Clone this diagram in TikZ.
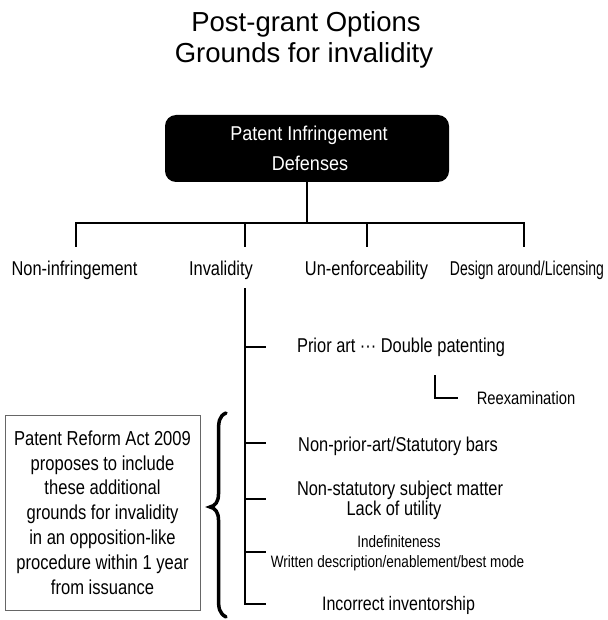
\documentclass[tikz,border=0pt]{standalone}
\usepackage{fontspec}
\setmainfont{Liberation Sans}
\newfontfamily\nar[FakeStretch=0.82]{Liberation Sans}
\newfontfamily\narr[FakeStretch=0.70]{Liberation Sans}
\newfontfamily\boxfont[FakeStretch=0.90]{Liberation Sans}
\begin{document}
\begin{tikzpicture}[x=1pt,y=-1pt,
  conn/.style={line width=1.8pt},
  lbl/.style={inner sep=0pt,anchor=base,font=\nar\fontsize{20}{24}\selectfont},
  sub/.style={inner sep=0pt,anchor=base,font=\nar\fontsize{20}{24}\selectfont},
  small/.style={inner sep=0pt,anchor=base,font=\nar\fontsize{16.5}{20}\selectfont},
  ttl/.style={inner sep=0pt,anchor=base,font=\fontsize{27.5}{32}\selectfont}]
\useasboundingbox (0,0) rectangle (607,620);
% title
\node[ttl] (t1) at (306,32) {Post-grant Options};
\node[ttl] (t2) at (304,63) {Grounds for invalidity};
% root box
\node[fill=black,rounded corners=11pt,minimum width=284pt,minimum height=67pt,inner sep=0pt] (root) at (307,148.5) {};
\node[inner sep=0pt,anchor=base,text=white,font=\boxfont\fontsize{20}{24}\selectfont] (r1) at (309,140.5) {Patent Infringement};
\node[inner sep=0pt,anchor=base,text=white,font=\boxfont\fontsize{20}{24}\selectfont] (r2) at (310,170.5) {Defenses};
% tree level 1
\coordinate (hub) at (307,223);
\coordinate (a1) at (76,223);  \coordinate (b1) at (76,247);
\coordinate (a2) at (245,223); \coordinate (b2) at (245,247);
\coordinate (a3) at (367,223); \coordinate (b3) at (367,247);
\coordinate (a4) at (524,223); \coordinate (b4) at (524,247);
\draw[conn] (root.south) -- (hub);
\draw[conn,line cap=rect] (a1) -- (a4);
\draw[conn] (a1) -- (b1);
\draw[conn] (a2) -- (b2);
\draw[conn] (a3) -- (b3);
\draw[conn] (a4) -- (b4);
\node[lbl] (n1) at (74.5,275) {Non-infringement};
\node[lbl] (n2) at (221,275) {Invalidity};
\node[lbl] (n3) at (366.5,275) {Un-enforceability};
\node[lbl,font=\narr\fontsize{20}{24}\selectfont] (n4) at (527,275) {Design around/Licensing};
% invalidity branch
\coordinate (v0) at (245,288);
\coordinate (k1) at (245,347); \coordinate (e1) at (266,347);
\coordinate (k2) at (245,443); \coordinate (e2) at (266,443);
\coordinate (k3) at (245,499); \coordinate (e3) at (266,499);
\coordinate (k4) at (245,552); \coordinate (e4) at (266,552);
\coordinate (e5) at (266,604);
\draw[conn] (v0) |- (e5);
\draw[conn] (k1) -- (e1);
\draw[conn] (k2) -- (e2);
\draw[conn] (k3) -- (e3);
\draw[conn] (k4) -- (e4);
\node[sub] (p1) at (401,352) {Prior art ··· Double patenting};
\coordinate (x0) at (435,375); \coordinate (x1) at (458,398);
\draw[conn] (x0) |- (x1);
\node[sub,font=\nar\fontsize{18}{22}\selectfont] (p2) at (526,404) {Reexamination};
\node[sub] (p3) at (398,451) {Non-prior-art/Statutory bars};
\node[sub] (p4) at (400,495) {Non-statutory subject matter};
\node[sub] (p5) at (394,515) {Lack of utility};
\node[small] (p6) at (399,547) {Indefiniteness};
\node[small] (p7) at (397.5,567) {Written description/enablement/best mode};
\node[sub,font=\nar\fontsize{19.5}{24}\selectfont] (p8) at (398.5,610) {Incorrect inventorship};
% note box
\node[draw=black!60,line width=0.7pt,minimum width=195pt,minimum height=195pt,inner sep=0pt,align=center,
  font=\nar\fontsize{20.2}{24.8}\selectfont] (note) at (102.5,512.5)
  {Patent Reform Act 2009\\proposes to include\\these additional\\grounds for invalidity\\in an opposition-like\\procedure within 1 year\\from issuance};
% brace
\draw[line width=3.5pt,line cap=round] (226,413) .. controls (219,416) and (218.5,422) .. (218.5,432)
  -- (218.5,494) .. controls (218.5,502) and (215,506) .. (210,507)
  .. controls (215,508) and (218.5,512) .. (218.5,520)
  -- (218.5,598) .. controls (218.5,608) and (219,613) .. (226,617);
\end{tikzpicture}
\end{document}
